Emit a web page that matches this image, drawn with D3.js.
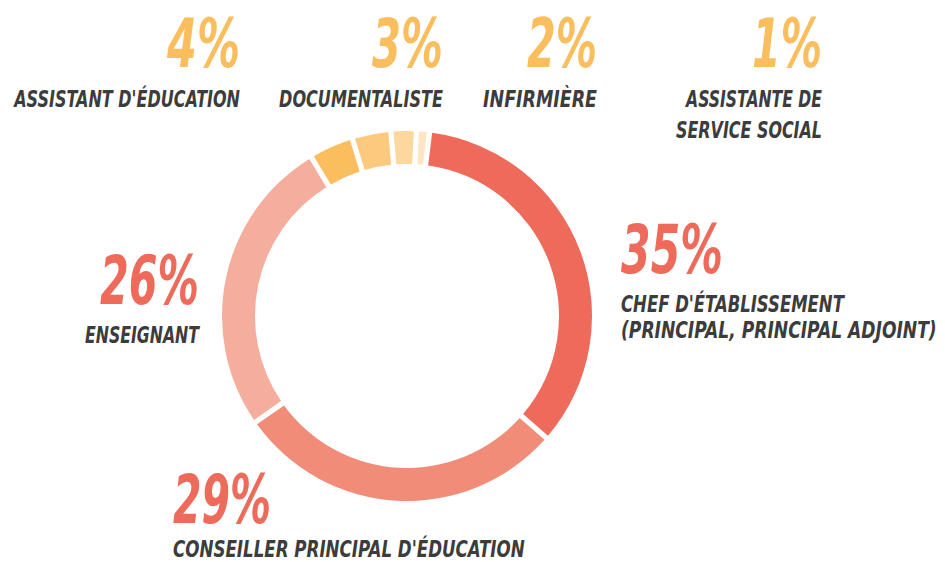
<!DOCTYPE html>
<html>
<head>
<meta charset="utf-8">
<script src="https://cdn.jsdelivr.net/npm/d3@7"></script>
<style>
  html, body { margin: 0; padding: 0; background: #ffffff; }
  svg { display: block; }
  text { font-family: "Liberation Sans Narrow", "DejaVu Sans Condensed", "Liberation Sans", sans-serif; font-weight: bold; font-style: italic; }
</style>
</head>
<body>
<svg id="chart" width="945" height="562"></svg>
<script>
// ---- data ----
const categories = [
  "CHEF D'ÉTABLISSEMENT|(PRINCIPAL, PRINCIPAL ADJOINT)",
  "CONSEILLER PRINCIPAL D'ÉDUCATION",
  "ENSEIGNANT",
  "ASSISTANT D'ÉDUCATION",
  "DOCUMENTALISTE",
  "INFIRMIÈRE",
  "ASSISTANTE DE|SERVICE SOCIAL"
];
// slice shares as read from the ring (labels show the rounded percentages)
const values = [35, 29.2, 26.4, 3.6, 3.1, 1.9, 0.8];
const valueLabels = ["35%", "29%", "26%", "4%", "3%", "2%", "1%"];

// ---- styles ----
const sliceColors = ["#EE6A5A", "#F18C79", "#F5AE9D", "#FBBE5F", "#FCCA7E", "#FDD79D", "#FEE6C2"];
const pctColors = ["#EE6B5B", "#EE6B5B", "#EE6B5B", "#FBBE5E", "#FBBE5E", "#FBBE5E", "#FBBE5E"];
const labelColor = "#3C3C3C";

// ---- layout (anchor x, pct baseline, label baselines, widths) ----
const layout = [
  {x: 621, anchor: "start", pctY: 273, pctW: 102, lines: [312, 338], lineW: [223, 316]},
  {x: 173, anchor: "start", pctY: 523, pctW: 98,  lines: [557], lineW: [352]},
  {x: 199, anchor: "end",   pctY: 304, pctW: 99,  lines: [343], lineW: [114]},
  {x: 240, anchor: "end",   pctY: 67,  pctW: 73,  lines: [107], lineW: [226]},
  {x: 443, anchor: "end",   pctY: 67,  pctW: 71,  lines: [107], lineW: [164]},
  {x: 597, anchor: "end",   pctY: 67,  pctW: 70,  lines: [107], lineW: [114]},
  {x: 822, anchor: "end",   pctY: 67,  pctW: 70,  lines: [107, 138], lineW: [136, 146]}
];

const svg = d3.select("#chart");
const cx = 407, cy = 316, rOuter = 185, rInner = 152;
const start = 7 * Math.PI / 180;

const pie = d3.pie().sort(null).value(d => d)
  .startAngle(start).endAngle(start + 2 * Math.PI)
  .padAngle(0.022);
const arc = d3.arc().innerRadius(rInner).outerRadius(rOuter);

svg.append("g").attr("transform", `translate(${cx},${cy})`)
  .selectAll("path").data(pie(values)).join("path")
  .attr("d", arc)
  .attr("fill", (d, i) => sliceColors[i]);

// draw text at origin, then squeeze horizontally to the target width
function fitText(sel, x, y, width) {
  const natural = sel.node().getComputedTextLength() || width;
  const sx = width / natural;
  sel.attr("transform", `translate(${x},${y}) scale(${sx},1)`);
}

const g = svg.append("g");
values.forEach((v, i) => {
  const L = layout[i];
  const p = g.append("text")
    .attr("text-anchor", L.anchor)
    .attr("font-size", 67)
    .attr("fill", pctColors[i])
    .text(valueLabels[i]);
  fitText(p, L.x, L.pctY, L.pctW);
  categories[i].split("|").forEach((line, j) => {
    const t = g.append("text")
      .attr("text-anchor", L.anchor)
      .attr("font-size", 23.5)
      .attr("fill", labelColor)
      .text(line);
    fitText(t, L.x, L.lines[j], L.lineW[j]);
  });
});
</script>
</body>
</html>
